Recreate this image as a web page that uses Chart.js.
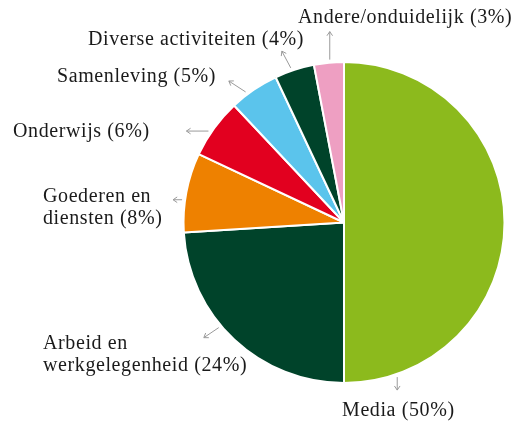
<!DOCTYPE html>
<html>
<head>
<meta charset="utf-8">
<script src="https://cdn.jsdelivr.net/npm/chart.js@4"></script>
<style>
  html, body { margin: 0; padding: 0; background: #fff; }
  #wrap { width: 520px; height: 423px; }
</style>
</head>
<body>
<div id="wrap"><canvas id="myChart" width="520" height="423"></canvas></div>
<script>
// data
const categories = [
  "Media",
  "Arbeid en werkgelegenheid",
  "Goederen en diensten",
  "Onderwijs",
  "Samenleving",
  "Diverse activiteiten",
  "Andere/onduidelijk",
];
const shares = [50, 24, 8, 6, 5, 4, 3];
const labelLines = [
  ["Media (50%)"],
  ["Arbeid en", "werkgelegenheid (24%)"],
  ["Goederen en", "diensten (8%)"],
  ["Onderwijs (6%)"],
  ["Samenleving (5%)"],
  ["Diverse activiteiten (4%)"],
  ["Andere/onduidelijk (3%)"],
];
const sliceColors = ["#8cba1d", "#00432a", "#ee8100", "#e2001f", "#5bc4ec", "#00432a", "#ee9fc2"];

// label placement: anchor angle on rim, arrow direction, arrow length, text position
const labelPos = [
  { anchor: 71, dir: 90, len: 13, x: 342, y: 411 },
  { anchor: 140, dir: 146, len: 18, x: 43, y: 344 },
  { anchor: -172, dir: 180, len: 9, x: 43, y: 197 },
  { anchor: -146, dir: 180, len: 22, x: 13, y: 132 },
  { anchor: -127, dir: -147, len: 20, x: 57, y: 77 },
  { anchor: -109, dir: -118, len: 19, x: 88, y: 40 },
  { anchor: -95, dir: -90, len: 28, x: 298, y: 18 },
];

const labelPlugin = {
  id: "arrowLabels",
  afterDatasetsDraw(chart) {
    const ctx = chart.ctx;
    const arcs = chart.getDatasetMeta(0).data;
    arcs.forEach((arc, i) => {
      const p = labelPos[i];
      const a = (p.anchor * Math.PI) / 180;
      const d = (p.dir * Math.PI) / 180;
      const r = arc.outerRadius + 3;
      const x0 = arc.x + Math.cos(a) * r;
      const y0 = arc.y + Math.sin(a) * r;
      const x1 = x0 + Math.cos(d) * p.len;
      const y1 = y0 + Math.sin(d) * p.len;
      ctx.save();
      ctx.strokeStyle = "#9a9a9a";
      ctx.lineWidth = 1;
      ctx.beginPath();
      ctx.moveTo(x0, y0);
      ctx.lineTo(x1, y1);
      // arrow head
      const h = 5;
      ctx.moveTo(x1 - Math.cos(d - 0.6) * h, y1 - Math.sin(d - 0.6) * h);
      ctx.lineTo(x1, y1);
      ctx.lineTo(x1 - Math.cos(d + 0.6) * h, y1 - Math.sin(d + 0.6) * h);
      ctx.stroke();

      ctx.fillStyle = "#1a1a1a";
      ctx.font = "20px 'Liberation Serif', serif";
      ctx.letterSpacing = "0.6px";
      ctx.textAlign = "left";
      ctx.textBaseline = "middle";
      labelLines[i].forEach((line, j) => {
        ctx.fillText(line, p.x, p.y + j * 22);
      });
      ctx.restore();
    });
  },
};

new Chart(document.getElementById("myChart"), {
  type: "pie",
  data: {
    labels: categories,
    datasets: [
      {
        data: shares,
        backgroundColor: sliceColors,
        borderColor: "#ffffff",
        borderWidth: 2,
        hoverOffset: 0,
      },
    ],
  },
  options: {
    responsive: false,
    animation: false,
    events: [],
    layout: { padding: { left: 182, right: 14, top: 61, bottom: 39 } },
    plugins: {
      legend: { display: false },
      tooltip: { enabled: false },
    },
  },
  plugins: [labelPlugin],
});
</script>
</body>
</html>
